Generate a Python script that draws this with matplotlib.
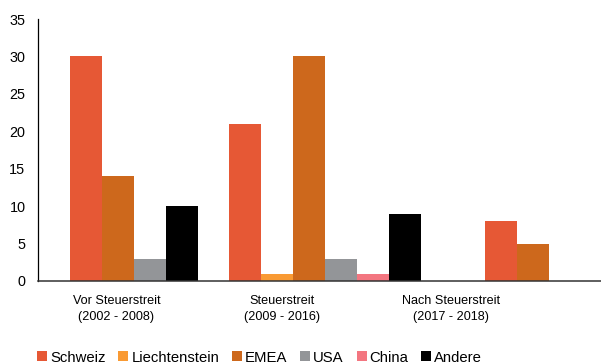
import matplotlib
matplotlib.use("Agg")
import matplotlib.pyplot as plt
from matplotlib.patches import Patch

plt.rcParams['font.family'] = ['Liberation Sans', 'DejaVu Sans']

categories = ["Vor Steuerstreit\n(2002 - 2008)",
              "Steuerstreit\n(2009 - 2016)",
              "Nach Steuerstreit\n(2017 - 2018)"]
series = ["Schweiz", "Liechtenstein", "EMEA", "USA", "China", "Andere"]
schweiz = [30, 21, 8]
liechtenstein = [0, 1, 0]
emea = [14, 30, 5]
usa = [3, 3, 0]
china = [0, 1, 0]
andere = [10, 9, 0]
yticks = [0, 5, 10, 15, 20, 25, 30, 35]

colors = ["#E65835", "#F99A33", "#CD681C", "#939598", "#F37680", "#000000"]
values = [schweiz, liechtenstein, emea, usa, china, andere]

fig = plt.figure(figsize=(6.01, 3.63), dpi=100)
ax = fig.add_axes([38 / 601, 1 - 281 / 363, 1 - 38 / 601, 262 / 363])

# bars of each group are packed side by side, zero values are left out
bar_w = 1 / 6
for gi in range(len(categories)):
    present = [si for si in range(len(series)) if values[si][gi] > 0]
    n = len(present)
    for k, si in enumerate(present):
        x = gi + (k - (n - 1) / 2) * bar_w
        ax.bar(x, values[si][gi], width=bar_w, color=colors[si], linewidth=0)

ax.set_xlim(-0.5, 2.44)
ax.set_ylim(0, 35)
ax.set_yticks(yticks)
ax.set_yticklabels([str(v) for v in yticks])
ax.tick_params(axis='y', length=0, pad=9, labelsize=10.4)

label_pos = [-0.09, 0.775, 1.655]
ax.set_xticks(label_pos)
ax.set_xticklabels(categories, fontsize=9.1, linespacing=1.5)
ax.tick_params(axis='x', length=0, pad=10)

for s in ['top', 'right']:
    ax.spines[s].set_visible(False)
ax.spines['left'].set_color('black')
ax.spines['left'].set_linewidth(0.9)
ax.spines['bottom'].set_color('#333333')
ax.spines['bottom'].set_linewidth(1.1)

leg_handles = [Patch(facecolor=c, edgecolor='none') for c in colors]
fig.legend(leg_handles, series, loc='center left',
           bbox_to_anchor=(37 / 601, 1 - 357.5 / 363), ncol=6, frameon=False,
           fontsize=10.7, handlelength=0.67, handleheight=0.67,
           handletextpad=0.2, columnspacing=0.87, borderpad=0,
           borderaxespad=0)

fig.savefig("out.png", dpi=100)
